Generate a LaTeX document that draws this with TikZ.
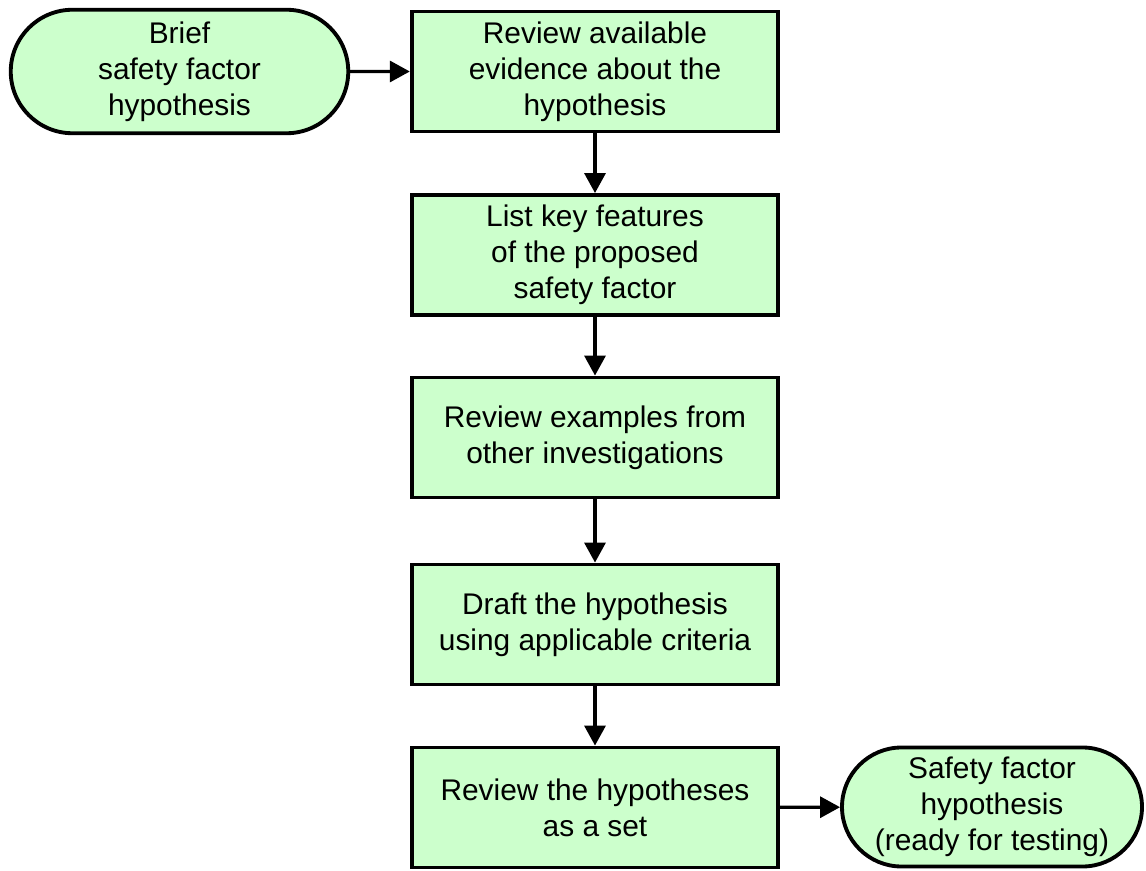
\documentclass[tikz,border=0pt]{standalone}
\usepackage{fontspec}
\setmainfont{Liberation Sans}
\usetikzlibrary{arrows.meta,shapes.misc}
\definecolor{stepgreen}{HTML}{CCFFCC}
\begin{document}
\begin{tikzpicture}[
        font=\fontsize{17}{20.5}\selectfont,
        stepbox/.style={draw, line width=2.2pt, fill=stepgreen, align=center,
            inner sep=0pt, minimum width=7.33cm, minimum height=2.4cm},
        endbox/.style={rounded rectangle, draw, line width=2.2pt, fill=stepgreen,
            align=center, inner sep=0pt},
        flow/.style={line width=1.9pt, -{Triangle[length=0.4cm,width=0.42cm]}}
    ]
    \useasboundingbox (0,0) rectangle (22.92,-17.42);
    % start and end
    \node[endbox, minimum width=6.75cm, minimum height=2.47cm] (brief) at (3.59,-1.43)
        {Brief\\safety factor\\hypothesis};
    \node[endbox, minimum width=6.0cm, minimum height=2.38cm] (ready) at (19.84,-16.14)
        {Safety factor\\hypothesis\\(ready for testing)};
    % steps
    \node[stepbox] (evidence) at (11.9,-1.43) {Review available\\evidence about the\\hypothesis};
    \node[stepbox] (features) at (11.9,-5.10) {List key features\\of the proposed\\safety factor};
    \node[stepbox] (examples) at (11.9,-8.75) {Review examples from\\other investigations};
    \node[stepbox] (draft) at (11.9,-12.49) {Draft the hypothesis\\using applicable criteria};
    \node[stepbox] (set) at (11.9,-16.15) {Review the hypotheses\\as a set};
    % arrows
    \draw[flow] (brief) -- (evidence);
    \draw[flow] (evidence) -- (features);
    \draw[flow] (features) -- (examples);
    \draw[flow] (examples) -- (draft);
    \draw[flow] (draft) -- (set);
    \draw[flow] (set) -- (ready);
\end{tikzpicture}
\end{document}
